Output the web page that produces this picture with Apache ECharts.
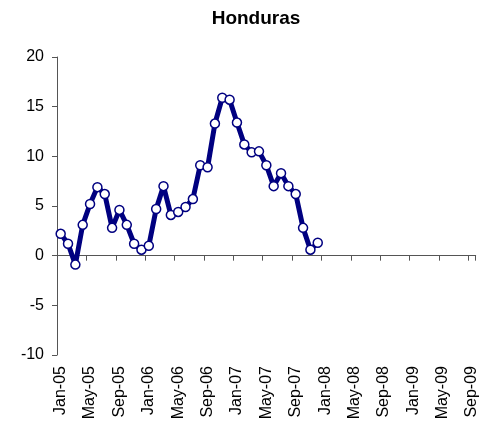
<!DOCTYPE html>
<html>
<head>
<meta charset="utf-8">
<script src="https://cdn.jsdelivr.net/npm/echarts@6/dist/echarts.min.js"></script>
<style>
	html, body { margin: 0; padding: 0; background: #fff; }
	#chart { width: 480px; height: 427px; }
</style>
</head>
<body>
<div id="chart"></div>
<script>
// month names and years used for the category labels (Jan-05 .. Sep-09)
const monthNames = ['Jan', 'Feb', 'Mar', 'Apr', 'May', 'Jun', 'Jul', 'Aug', 'Sep', 'Oct', 'Nov', 'Dec'];
const years = ['05', '06', '07', '08', '09'];
const lastMonthIndex = 8; // axis runs up to Sep-09

// Honduras, monthly values Jan-05 .. Dec-07
const hondurasValues = [
	2.2, 1.2, -0.9, 3.1, 5.2, 6.9, 6.2, 2.8, 4.6, 3.1, 1.2, 0.6,
	1.0, 4.7, 7.0, 4.1, 4.4, 4.9, 5.7, 9.1, 8.9, 13.3, 15.9, 15.7,
	13.4, 11.2, 10.4, 10.5, 9.1, 7.0, 8.3, 7.0, 6.2, 2.8, 0.6, 1.3
];

const yTicks = { min: -10, max: 20, interval: 5 };

const categories = [];
years.forEach((y, yi) => {
	monthNames.forEach((m, mi) => {
		if (yi === years.length - 1 && mi > lastMonthIndex) return;
		categories.push(m + '-' + y);
	});
});

const FONT = '"Liberation Sans", Arial, sans-serif';
const AXIS_COLOR = '#555';

const chart = echarts.init(document.getElementById('chart'));

chart.setOption({
	animation: false,
	title: {
		text: 'Honduras',
		left: 251,
		top: 4,
		textAlign: 'center',
		textStyle: { fontFamily: FONT, fontSize: 19, fontWeight: 'bold', color: '#000' }
	},
	grid: { left: 57, right: 3, top: 57, bottom: 72, containLabel: false },
	xAxis: [
		{
			// axis line and ticks sitting on zero
			type: 'category',
			data: categories,
			boundaryGap: true,
			axisLine: { onZero: true, lineStyle: { color: AXIS_COLOR, width: 1 } },
			axisTick: { show: true, interval: 3, length: 5, inside: false, lineStyle: { color: AXIS_COLOR } },
			axisLabel: { show: false },
			splitLine: { show: false }
		},
		{
			// labels at bottom of the plot
			type: 'category',
			data: categories,
			position: 'bottom',
			boundaryGap: true,
			axisLine: { show: false, onZero: false },
			axisTick: { show: false },
			axisLabel: {
				interval: 3,
				rotate: 90,
				margin: 11,
				color: '#000',
				fontFamily: FONT,
				fontSize: 16
			},
			splitLine: { show: false }
		}
	],
	yAxis: {
		type: 'value',
		min: yTicks.min,
		max: yTicks.max,
		interval: yTicks.interval,
		axisLine: { show: true, lineStyle: { color: AXIS_COLOR, width: 1 } },
		axisTick: { show: true, length: 5, inside: false, lineStyle: { color: AXIS_COLOR } },
		axisLabel: { margin: 13, color: '#000', fontFamily: FONT, fontSize: 16 },
		splitLine: { show: false }
	},
	series: [
		{
			name: 'Honduras',
			type: 'line',
			xAxisIndex: 0,
			data: hondurasValues,
			showSymbol: true,
			showAllSymbol: true,
			lineStyle: { color: '#000080', width: 5 },
			symbol: 'circle',
			symbolSize: 9,
			itemStyle: { color: '#fff', borderColor: '#000080', borderWidth: 1.5 },
			z: 3
		}
	]
});
</script>
</body>
</html>
